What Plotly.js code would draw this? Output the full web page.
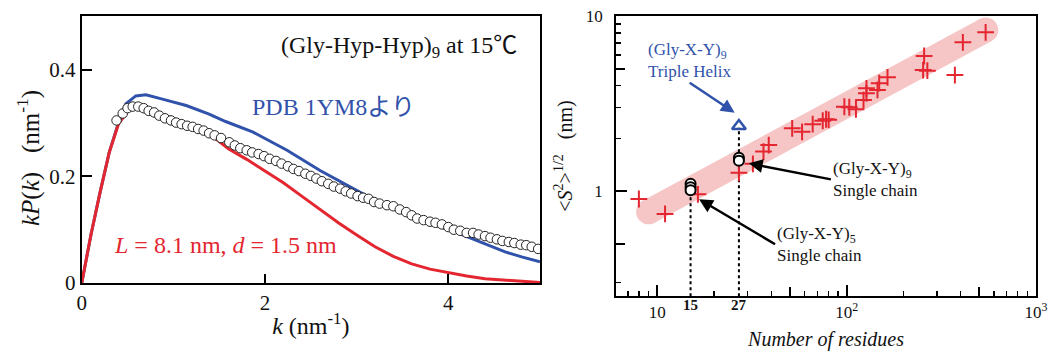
<!DOCTYPE html>
<html><head><meta charset="utf-8">
<script src="https://cdn.plot.ly/plotly-3.0.1.min.js"></script>
<style>html,body{margin:0;padding:0;background:#fff}#chart{width:1052px;height:351px}</style>
</head><body><div id="chart"></div>
<script>
// ---- Left panel: kP(k) vs k ----
const kExp = [0.38,0.447,0.50,0.556,0.617,0.676,0.73,0.79,0.846,0.908,0.974,1.03,1.09,1.15,1.21,1.27,1.33,1.39,1.45,1.52,
  1.61,1.67,1.73,1.80,1.86,1.93,1.99,2.05,2.12,2.18,2.25,2.31,2.37,2.44,2.50,2.56,2.62,2.69,2.75,2.82,2.88,2.94,3.01,3.07,
  3.13,3.19,3.25,3.33,3.40,3.47,3.54,3.60,3.66,3.73,3.80,3.86,3.93,4.00,4.06,4.13,4.20,4.27,4.33,4.40,4.46,4.53,4.59,
  4.66,4.72,4.79,4.85,4.91,4.98];
const kpExp = [0.305,0.318,0.328,0.331,0.331,0.328,0.323,0.320,0.314,0.309,0.305,0.301,0.298,0.295,0.293,0.289,0.286,0.281,0.277,0.272,
  0.264,0.258,0.253,0.249,0.245,0.242,0.238,0.233,0.229,0.224,0.219,0.214,0.210,0.205,0.201,0.196,0.191,0.186,0.181,0.177,0.172,0.168,0.163,0.160,
  0.158,0.152,0.149,0.146,0.144,0.138,0.133,0.127,0.121,0.118,0.115,0.113,0.110,0.105,0.100,0.098,0.094,0.094,0.091,0.088,0.085,0.082,0.079,
  0.077,0.075,0.072,0.071,0.068,0.064];

const kModel  = [0,0.1,0.2,0.3,0.4,0.5,0.6,0.7,0.8,1.0,1.2,1.4,1.5,1.6,1.8,2.0,2.2,2.4,2.6,2.8,3.0,3.2,3.4,3.6,3.8,4.0,4.2,4.4,4.6,4.8,5.0];
const kpModel = [0,0.09,0.17,0.245,0.298,0.322,0.329,0.328,0.322,0.308,0.295,0.279,0.266,0.252,0.232,0.210,0.188,0.163,0.138,0.113,0.090,0.068,0.050,0.036,0.026,0.019,0.013,0.008,0.006,0.003,0.001];

const kPdb  = [0,0.1,0.2,0.3,0.4,0.48,0.59,0.7,0.88,1.14,1.39,1.57,1.87,2.24,2.6,3.03,3.2,3.5,3.8,4.1,4.4,4.62,4.8,5.0];
const kpPdb = [0,0.09,0.17,0.245,0.30,0.336,0.351,0.353,0.345,0.333,0.317,0.303,0.283,0.249,0.211,0.172,0.155,0.132,0.112,0.094,0.074,0.0585,0.049,0.040];

// ---- Right panel: <S^2>^1/2 vs number of residues ----
const residues = [8.0,11.0,16.4,27.0,32.0,36.4,38.8,51.6,58.2,66.2,74.8,77.9,80.4,97.3,103.3,112,122.8,127.3,127.3,145.5,148.6,164.4,256.6,253.5,266.9,373,411,542];
const rgValues = [0.90,0.74,0.957,1.27,1.43,1.68,1.83,2.28,2.18,2.41,2.52,2.57,2.55,3.03,3.01,2.93,3.31,3.62,3.86,3.78,4.13,4.46,5.91,4.91,4.87,4.6,7.07,8.07];
const chainN  = [15,15,15,27,27];
const chainRg = [1.10,1.05,1.01,1.55,1.49];
const helixN  = [27];
const helixRg = [2.35];
const bandN   = [9.0,543];
const bandRg  = [0.76,8.32];
const dropN15 = [15,15];
const dropRg15 = [0.25,1.0];
const dropN27 = [27,27];
const dropRg27 = [0.25,2.3];

const xTickVals = [10,100,1000];
const xTickText = ['10','10<sup>2</sup>','10<sup>3</sup>'];
const xMidTicks = [50,500];
const xMinor = [7,8,9,20,30,40,60,70,80,90,200,300,400,600,700,800,900];
const yTickVals = [1,10];
const yTickText = ['1','10'];
const yMidTicks = [0.5,5];
const yMinor = [0.3,2,3,4,6,7,8,9];

const RED = 'rgb(228,38,48)';
const BLUE = 'rgb(48,82,170)';
const PINK = 'rgb(246,198,198)';
const FONT = 'Liberation Serif, "Times New Roman", "Noto Sans CJK JP", serif';
const L = Math.log10;

const traces = [
  {x:kPdb, y:kpPdb, mode:'lines', line:{color:BLUE,width:3}, xaxis:'x', yaxis:'y', hoverinfo:'skip'},
  {x:kModel, y:kpModel, mode:'lines', line:{color:RED,width:3}, xaxis:'x', yaxis:'y', hoverinfo:'skip'},
  {x:kExp, y:kpExp, mode:'markers', marker:{symbol:'circle',size:9.5,color:'#fff',line:{color:'#222',width:1}}, xaxis:'x', yaxis:'y'},

  {x:bandN, y:bandRg, mode:'lines+markers', line:{color:PINK,width:25}, marker:{color:PINK,size:25,line:{width:0}}, xaxis:'x2', yaxis:'y2', hoverinfo:'skip'},
  {x:dropN15, y:dropRg15, mode:'lines', line:{color:'#000',width:2,dash:'dot'}, xaxis:'x2', yaxis:'y2', hoverinfo:'skip'},
  {x:dropN27, y:dropRg27, mode:'lines', line:{color:'#000',width:2,dash:'dot'}, xaxis:'x2', yaxis:'y2', hoverinfo:'skip'},
  {x:residues, y:rgValues, mode:'markers', marker:{symbol:'cross-thin-open',size:12,color:RED,line:{color:RED,width:2}}, xaxis:'x2', yaxis:'y2'},
  {x:chainN, y:chainRg, mode:'markers', marker:{symbol:'circle',size:10,color:'#fff',line:{color:'#000',width:2}}, xaxis:'x2', yaxis:'y2'},
  {x:helixN, y:helixRg, mode:'markers', marker:{symbol:'triangle-up-open',size:12,color:BLUE,line:{color:BLUE,width:2.5}}, xaxis:'x2', yaxis:'y2'},
  // empty traces that only host the overlaid axes carrying the medium-length ticks
  {x:[], y:[], xaxis:'x3', yaxis:'y2', hoverinfo:'skip'},
  {x:[], y:[], xaxis:'x2', yaxis:'y3', hoverinfo:'skip'}
];

const axBase = {showline:true, linewidth:2, linecolor:'#000', mirror:true, showgrid:false, zeroline:false,
  ticks:'inside', tickwidth:2, tickcolor:'#000'};

const layout = {
  width:1052, height:351, margin:{l:0,r:0,t:0,b:0}, showlegend:false,
  paper_bgcolor:'#fff', plot_bgcolor:'rgba(0,0,0,0)',
  font:{family:FONT, color:'#111', size:20},
  xaxis:Object.assign({}, axBase, {domain:[0.0777,0.5133], range:[0,5], tickmode:'array', tickvals:[0,2,4], ticktext:['0','2','4'],
    ticklen:9, tickfont:{size:21}, anchor:'y',
    title:{text:'<i>k</i> (nm<sup>-1</sup>)', font:{size:24}, standoff:3}}),
  yaxis:Object.assign({}, axBase, {domain:[0.1937,0.953], range:[0,0.5], tickmode:'array', tickvals:[0,0.2,0.4], ticktext:['0','0.2','0.4'],
    ticklen:10, tickfont:{size:21}, anchor:'x'}),
  xaxis2:Object.assign({}, axBase, {domain:[0.5856,0.9848], type:'log', range:[0.7826,3.0], tickmode:'array',
    tickvals:xTickVals, ticktext:xTickText, ticklen:11, tickfont:{size:17}, anchor:'y2', ticklabelstandoff:0,
    minor:{tickmode:'array', tickvals:xMinor, ticks:'inside', ticklen:5, tickwidth:1.5, tickcolor:'#000', showgrid:false},
    title:{text:'<i>Number of residues</i>', font:{size:20}, standoff:12}}),
  yaxis2:Object.assign({}, axBase, {domain:[0.1567,0.9544], type:'log', range:[-0.6,1], tickmode:'array',
    tickvals:yTickVals, ticktext:yTickText, ticklen:11, tickfont:{size:17}, anchor:'x2', ticklabelstandoff:8,
    minor:{tickmode:'array', tickvals:yMinor, ticks:'inside', ticklen:5, tickwidth:1.5, tickcolor:'#000', showgrid:false},
    title:{text:'&lt;<i>S</i><sup>2</sup>&gt;<sup>1/2</sup>   (nm)', font:{size:20}, standoff:8}}),
  xaxis3:{overlaying:'x2', anchor:'y2', side:'bottom', type:'log', range:[0.7826,3.0], tickmode:'array', tickvals:xMidTicks,
    ticks:'inside', ticklen:9, tickwidth:2, tickcolor:'#000', showticklabels:false, showline:false, showgrid:false, zeroline:false},
  yaxis3:{overlaying:'y2', anchor:'x2', side:'left', type:'log', range:[-0.6,1], tickmode:'array', tickvals:yMidTicks,
    ticks:'inside', ticklen:9, tickwidth:2, tickcolor:'#000', showticklabels:false, showline:false, showgrid:false, zeroline:false},
  annotations:[
    // left panel y-axis title (placed as a rotated annotation for exact positioning)
    {xref:'paper', yref:'paper', x:28/1052, y:1-158/351, text:'<i>kP</i>(<i>k</i>)   (nm<sup>-1</sup>)', textangle:-90,
      showarrow:false, font:{size:25,color:'#111'}, xanchor:'center', yanchor:'middle'},
    {xref:'paper', yref:'paper', x:399/1052, y:1-47/351, text:'(Gly-Hyp-Hyp)<sub>9</sub> at 15℃', showarrow:false,
      font:{size:24,color:'#111'}, xanchor:'center', yanchor:'middle'},
    {xref:'paper', yref:'paper', x:250/1052, y:1-107/351, text:'PDB 1YM8より', showarrow:false,
      font:{size:24,color:BLUE}, xanchor:'left', yanchor:'middle'},
    {xref:'paper', yref:'paper', x:112/1052, y:1-245/351, text:'<i>L</i> = 8.1 nm, <i>d</i> = 1.5 nm', showarrow:false,
      font:{size:24,color:RED}, xanchor:'left', yanchor:'middle'},

    // labels that carry their own arrows (arrow runs from the marked point to the label)
    {xref:'x2', yref:'y2', x:1.409, y:0.447, axref:'pixel', ayref:'pixel', ax:-45, ay:-30,
      text:'(Gly-X-Y)<sub>9</sub><br>Triple Helix', align:'left', xanchor:'center', yanchor:'bottom',
      font:{size:17,color:BLUE}, showarrow:true, arrowhead:2, arrowsize:1.1, arrowwidth:2.5, arrowcolor:BLUE},
    {xref:'x2', yref:'y2', x:1.484, y:0.158, ax:82, ay:16,
      text:'(Gly-X-Y)<sub>9</sub><br>Single chain', align:'left', xanchor:'left', yanchor:'middle',
      font:{size:17,color:'#111'}, showarrow:true, arrowhead:2, arrowsize:1.1, arrowwidth:2.5, arrowcolor:'#000'},
    {xref:'x2', yref:'y2', x:1.221, y:-0.047, ax:76, ay:45,
      text:'(Gly-X-Y)<sub>5</sub><br>Single chain', align:'left', xanchor:'left', yanchor:'middle',
      font:{size:17,color:'#111'}, showarrow:true, arrowhead:2, arrowsize:1.1, arrowwidth:2.5, arrowcolor:'#000'},

    {xref:'x2', yref:'paper', x:L(15), y:1-305/351, text:'<b>15</b>', showarrow:false, font:{size:15,color:'#111'}, xanchor:'center', yanchor:'middle'},
    {xref:'x2', yref:'paper', x:L(27), y:1-305/351, text:'<b>27</b>', showarrow:false, font:{size:15,color:'#111'}, xanchor:'center', yanchor:'middle'}
  ]
};

Plotly.newPlot('chart', traces, layout, {displayModeBar:false, staticPlot:true});
</script>
</body></html>
